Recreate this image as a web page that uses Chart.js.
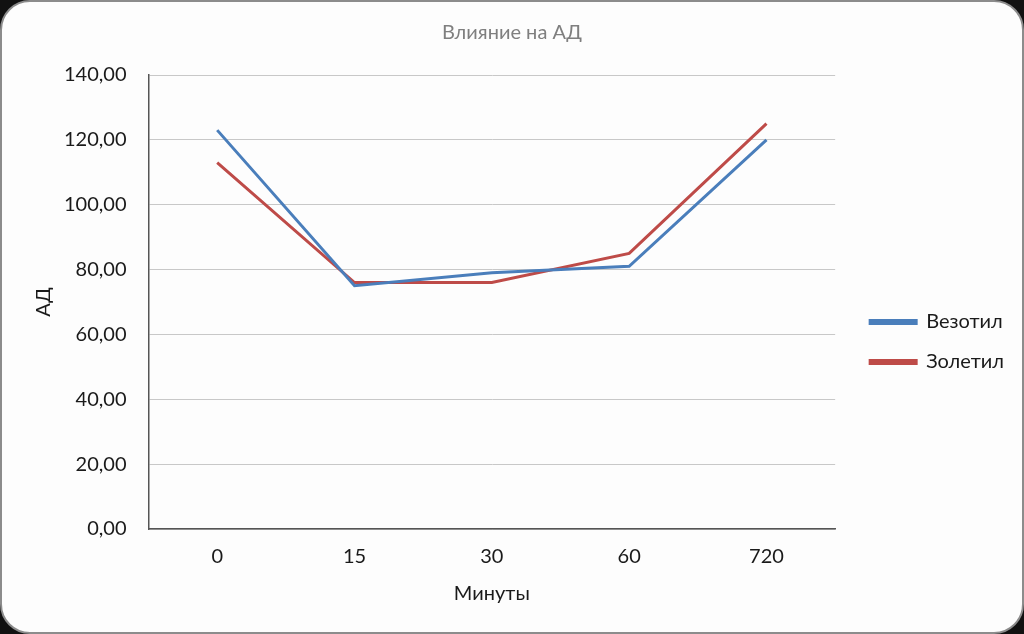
<!DOCTYPE html>
<html>
<head>
<meta charset="utf-8">
<script src="https://cdn.jsdelivr.net/npm/chart.js@4"></script>
<style>
  html, body { margin: 0; padding: 0; background: #111; }
  #frame {
    position: absolute; left: 0; top: 0;
    width: 1020px; height: 630px;
    background: #fdfdfd;
    border: 2px solid #8c8c8c;
    border-radius: 30px;
    overflow: hidden;
  }
  canvas { display: block; }
</style>
</head>
<body>
<div id="frame"><canvas id="chart" width="1020" height="630"></canvas></div>
<script>
const minutes = ['0', '15', '30', '60', '720'];
const vezotil = [123, 75, 79, 81, 120];
const zoletil = [113, 76, 76, 85, 125];

const FONT = 'Lato, "Open Sans", sans-serif';

new Chart(document.getElementById('chart'), {
  type: 'line',
  data: {
    labels: minutes,
    datasets: [
      { label: 'Везотил', data: vezotil, borderColor: '#4a7ebb', backgroundColor: '#4a7ebb',
        borderWidth: 3, pointRadius: 0, tension: 0 },
      { label: 'Золетил', data: zoletil, borderColor: '#be4b48', backgroundColor: '#be4b48',
        borderWidth: 3, pointRadius: 0, tension: 0 }
    ]
  },
  options: {
    responsive: false,
    animation: false,
    devicePixelRatio: 1,
    layout: { padding: { left: 8, right: 8, top: 10, bottom: 22 } },
    plugins: {
      title: {
        display: true, text: 'Влияние на АД', color: '#7f7f7f',
        font: { family: FONT, size: 20, weight: 'normal' }, padding: { top: 9, bottom: 30 }
      },
      legend: {
        position: 'right',
        // blank legend title just pushes the items down a bit
        title: { display: true, text: ' ', font: { family: FONT, size: 20 }, padding: 19 },
        labels: {
          color: '#1a1a1a', font: { family: FONT, size: 20 },
          boxWidth: 46, boxHeight: 3, padding: 20
        }
      },
      tooltip: { enabled: false }
    },
    scales: {
      x: {
        offset: true,
        grid: { display: false },
        border: { color: '#555', width: 1.5 },
        ticks: { color: '#1a1a1a', font: { family: FONT, size: 20 }, padding: 8 },
        title: { display: true, text: 'Минуты', color: '#1a1a1a', font: { family: FONT, size: 20 }, padding: { top: 5 } }
      },
      y: {
        min: 0, max: 140,
        ticks: {
          stepSize: 20, color: '#1a1a1a', font: { family: FONT, size: 20 }, padding: 22,
          callback: v => v.toFixed(2).replace('.', ',')
        },
        grid: { color: '#c8c8c8', drawTicks: false },
        border: { color: '#555', width: 1.5 },
        title: { display: true, text: 'АД', color: '#1a1a1a', font: { family: FONT, size: 20 }, padding: { top: 22, bottom: 0 } },
        afterFit: s => { s.width -= 14; }
      },
      // empty right-hand axis, only keeps a gap between the plot and the legend
      gap: {
        axis: 'y', position: 'right', display: true,
        grid: { display: false }, border: { display: false },
        ticks: { display: false },
        afterFit: s => { s.width = 15; }
      }
    }
  }
});
</script>
</body>
</html>
